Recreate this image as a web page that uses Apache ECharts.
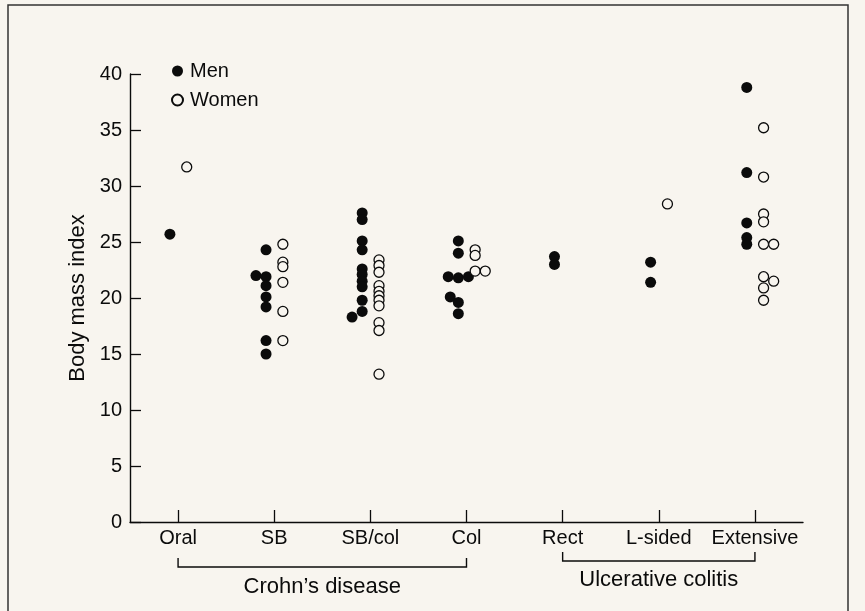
<!DOCTYPE html>
<html>
<head>
<meta charset="utf-8">
<script src="https://cdn.jsdelivr.net/npm/echarts@6/dist/echarts.min.js"></script>
<style>
html,body{margin:0;padding:0;background:#f8f5ef;}
#c{width:865px;height:611px;}
</style>
</head>
<body>
<div id="c"></div>
<script>
// ---- data ----
const categories = ['Oral', 'SB', 'SB/col', 'Col', 'Rect', 'L-sided', 'Extensive'];
const groupNames = ["Crohn\u2019s disease", 'Ulcerative colitis'];
const groupSpans = [[0, 3], [4, 6]];
const yTicks = [0, 5, 10, 15, 20, 25, 30, 35, 40];

const menBMI = [
  [25.7],
  [24.3, 22.0, 21.9, 21.1, 20.1, 19.2, 16.2, 15.0],
  [27.6, 27.0, 25.1, 24.3, 22.6, 22.1, 21.5, 21.0, 19.8, 18.8, 18.3],
  [25.1, 24.0, 21.9, 21.8, 21.9, 20.1, 19.6, 18.6],
  [23.7, 23.0],
  [23.2, 21.4],
  [38.8, 31.2, 26.7, 25.4, 24.8]
];
// side-by-side displacement of overlapping dots (in dot widths)
const menShift = [
  [0],
  [0, -1, 0, 0, 0, 0, 0, 0],
  [0, 0, 0, 0, 0, 0, 0, 0, 0, 0, -1],
  [0, 0, -1, 0, 1, -0.8, 0, 0],
  [0, 0],
  [0, 0],
  [0, 0, 0, 0, 0]
];
const womenBMI = [
  [31.7],
  [24.8, 23.2, 22.8, 21.4, 18.8, 16.2],
  [23.4, 22.9, 22.3, 21.1, 20.6, 20.2, 19.8, 19.3, 17.8, 17.1, 13.2],
  [24.3, 23.8, 22.4, 22.4],
  [],
  [28.4],
  [35.2, 30.8, 27.5, 26.8, 24.8, 24.8, 21.9, 21.5, 20.9, 19.8]
];
const womenShift = [
  [0],
  [0, 0, 0, 0, 0, 0],
  [0, 0, 0, 0, 0, 0, 0, 0, 0, 0, 0],
  [0, 0, 0, 1],
  [],
  [0],
  [0, 0, 0, 0, 0, 1, 0, 1, 0, 0]
];

// ---- build ----
const MEN_OFF = -0.085, WOMEN_OFF = 0.09, STEP = 0.105;
function build(vals, shifts, off) {
  const out = [];
  vals.forEach((arr, i) => arr.forEach((v, j) => out.push([i + off + shifts[i][j] * STEP, v])));
  return out;
}
const INK = '#0b0b0b';
const BG = '#f8f5ef';
const FONT = '"Liberation Sans", Arial, Helvetica, sans-serif';

const chart = echarts.init(document.getElementById('c'), null, {renderer: 'canvas'});
const tickIdx = categories.map((c, i) => i);
chart.setOption({
  backgroundColor: BG,
  animation: false,
  textStyle: {fontFamily: FONT, color: INK},
  grid: {left: 130, right: 62, top: 74, bottom: 89, containLabel: false},
  legend: {
    data: ['Men', 'Women'],
    orient: 'vertical',
    left: 166, top: 56,
    itemWidth: 11, itemHeight: 11, itemGap: 9,
    textStyle: {fontSize: 20, color: INK, fontFamily: FONT, lineHeight: 20, padding: [0, 0, 0, 2]}
  },
  xAxis: {
    type: 'value', min: -0.5, max: 6.5,
    splitLine: {show: false},
    axisLine: {show: true, onZero: false, lineStyle: {color: INK, width: 1.4}},
    axisTick: {show: true, inside: true, length: 12, customValues: tickIdx, lineStyle: {color: INK, width: 1.3}},
    axisLabel: {customValues: tickIdx, margin: 6, fontSize: 20, color: INK, fontFamily: FONT,
      formatter: v => categories[Math.round(v)]}
  },
  yAxis: {
    type: 'value', min: 0, max: 40, interval: 5,
    name: 'Body mass index', nameLocation: 'middle', nameGap: 41,
    nameTextStyle: {fontSize: 22, color: INK, fontFamily: FONT},
    splitLine: {show: false},
    axisLine: {show: true, onZero: false, lineStyle: {color: INK, width: 1.4}},
    axisTick: {show: true, inside: true, length: 11, lineStyle: {color: INK, width: 1.3}},
    axisLabel: {margin: 8, fontSize: 20, color: INK, fontFamily: FONT,
      formatter: v => yTicks.includes(v) ? String(v) : ''}
  },
  series: [
    {name: 'Men', type: 'scatter', symbol: 'circle', symbolSize: 11,
      itemStyle: {color: INK, borderColor: INK, borderWidth: 0, opacity: 1},
      data: build(menBMI, menShift, MEN_OFF), z: 3},
    {name: 'Women', type: 'scatter', symbol: 'circle', symbolSize: 10,
      itemStyle: {color: BG, borderColor: INK, borderWidth: 1.3, opacity: 1},
      data: build(womenBMI, womenShift, WOMEN_OFF), z: 4}
  ]
});

// brackets below the axis, positioned from the axis scale
const bracketY = [567, 561];
const labelY = [587, 580];
const graphics = [];
groupSpans.forEach((sp, g) => {
  const x0 = chart.convertToPixel({xAxisIndex: 0}, sp[0]);
  const x1 = chart.convertToPixel({xAxisIndex: 0}, sp[1]);
  const yb = bracketY[g];
  graphics.push({
    type: 'polyline',
    shape: {points: [[x0, yb - 9], [x0, yb], [x1, yb], [x1, yb - 9]]},
    style: {stroke: INK, lineWidth: 1.4, fill: null}
  });
  graphics.push({
    type: 'text',
    x: (x0 + x1) / 2, y: labelY[g],
    style: {text: groupNames[g], fill: INK, font: '22px ' + FONT, align: 'center', verticalAlign: 'middle'}
  });
});
// figure frame
graphics.push({
  type: 'rect',
  shape: {x: 8, y: 5, width: 840, height: 640},
  style: {stroke: '#333', lineWidth: 1.5, fill: null}
});
chart.setOption({graphic: graphics});
</script>
</body>
</html>
